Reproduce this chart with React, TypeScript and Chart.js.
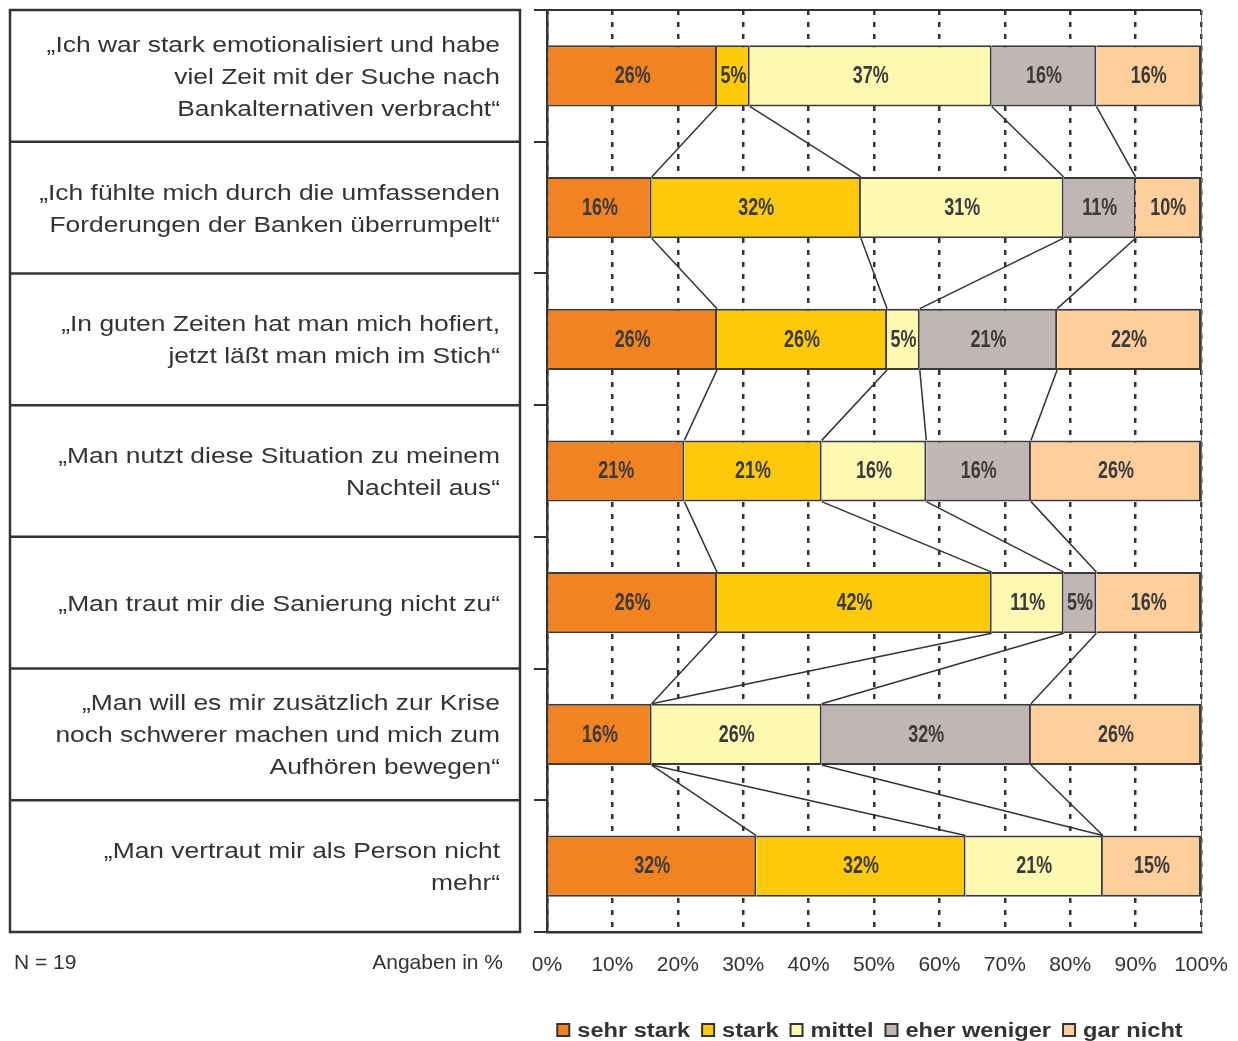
import React, { useEffect, useRef } from "react";
import { Chart, registerables } from "chart.js";

Chart.register(...registerables);

// ---------- data ----------
const statements: string[][] = [
  ["„Ich war stark emotionalisiert und habe", "viel Zeit mit der Suche nach", "Bankalternativen verbracht“"],
  ["„Ich fühlte mich durch die umfassenden", "Forderungen der Banken überrumpelt“"],
  ["„In guten Zeiten hat man mich hofiert,", "jetzt läßt man mich im Stich“"],
  ["„Man nutzt diese Situation zu meinem", "Nachteil aus“"],
  ["„Man traut mir die Sanierung nicht zu“"],
  ["„Man will es mir zusätzlich zur Krise", "noch schwerer machen und mich zum", "Aufhören bewegen“"],
  ["„Man vertraut mir als Person nicht", "mehr“"],
];
const seriesNames = ["sehr stark", "stark", "mittel", "eher weniger", "gar nicht"];
const sehrStark = [26, 16, 26, 21, 26, 16, 32];
const stark = [5, 32, 26, 21, 42, 0, 32];
const mittel = [37, 31, 5, 16, 11, 26, 21];
const eherWeniger = [16, 11, 21, 16, 5, 32, 0];
const garNicht = [16, 10, 22, 26, 16, 26, 15];
const seriesValues = [sehrStark, stark, mittel, eherWeniger, garNicht];
const xTickValues = [0, 10, 20, 30, 40, 50, 60, 70, 80, 90, 100];
const footLeft = "N = 19";
const footRight = "Angaben in %";

// ---------- styles ----------
const colors = ["#F28322", "#FDCA0B", "#FFF8B3", "#C0B6B4", "#FECF9D"];
const INK = "#333333";
const SANS = '"Liberation Sans", Arial, Helvetica, sans-serif';
const STRETCH = 1.2;

function stretchedText(ctx: CanvasRenderingContext2D, text: string, x: number, y: number, align: CanvasTextAlign, sx: number) {
  ctx.save();
  ctx.translate(x, y);
  ctx.scale(sx, 1);
  ctx.textAlign = align;
  ctx.fillText(text, 0, 0);
  ctx.restore();
}

const decorPlugin = {
  id: "decor",
  afterDatasetsDraw(chart: any) {
    const ctx: CanvasRenderingContext2D = chart.ctx;
    const xScale = chart.scales.x;
    const meta0 = chart.getDatasetMeta(0);
    const n = statements.length;

    // series lines
    ctx.save();
    ctx.strokeStyle = INK;
    ctx.lineWidth = 1.5;
    for (let i = 0; i < n - 1; i++) {
      const a = meta0.data[i].getProps(["y", "height"], true);
      const b = meta0.data[i + 1].getProps(["y", "height"], true);
      const yA = a.y + a.height / 2;
      const yB = b.y - b.height / 2;
      let cumA = 0;
      let cumB = 0;
      for (let s = 0; s < seriesValues.length - 1; s++) {
        cumA += seriesValues[s][i];
        cumB += seriesValues[s][i + 1];
        ctx.beginPath();
        ctx.moveTo(xScale.getPixelForValue(cumA), yA);
        ctx.lineTo(xScale.getPixelForValue(cumB), yB);
        ctx.stroke();
      }
    }
    ctx.restore();

    // value labels (condensed bold look)
    ctx.save();
    ctx.fillStyle = "#3a3a3a";
    ctx.font = `bold 23px ${SANS}`;
    ctx.textBaseline = "middle";
    chart.data.datasets.forEach((ds: any, di: number) => {
      const meta = chart.getDatasetMeta(di);
      ds.data.forEach((v: number, i: number) => {
        if (!v) return;
        const el = meta.data[i].getProps(["x", "y", "base"], true);
        stretchedText(ctx, `${v}%`, (el.x + el.base) / 2, el.y + 1, "center", 0.78);
      });
    });
    ctx.restore();
  },
  afterDraw(chart: any) {
    const ctx: CanvasRenderingContext2D = chart.ctx;
    const { left, right, top, bottom } = chart.chartArea;
    const yScale = chart.scales.y;
    const n = statements.length;

    // top frame and right solid edge
    ctx.save();
    ctx.strokeStyle = INK;
    ctx.lineWidth = 2;
    ctx.beginPath();
    ctx.moveTo(left, top);
    ctx.lineTo(right, top);
    ctx.stroke();
    ctx.lineWidth = 1;
    ctx.strokeStyle = "#666";
    ctx.beginPath();
    ctx.moveTo(right + 0.5, top);
    ctx.lineTo(right + 0.5, bottom);
    ctx.stroke();
    ctx.restore();

    // statement table
    const boxL = 10;
    const boxR = 520;
    const bounds: number[] = [];
    for (let i = 0; i <= n; i++) {
      bounds.push(i === 0 ? top : i === n ? bottom : (yScale.getPixelForTick(i - 1) + yScale.getPixelForTick(i)) / 2);
    }
    ctx.save();
    ctx.strokeStyle = INK;
    ctx.lineWidth = 2.5;
    ctx.strokeRect(boxL, bounds[0], boxR - boxL, bounds[n] - bounds[0]);
    for (let i = 1; i < n; i++) {
      ctx.beginPath();
      ctx.moveTo(boxL, bounds[i]);
      ctx.lineTo(boxR, bounds[i]);
      ctx.stroke();
    }
    ctx.fillStyle = INK;
    ctx.font = `22px ${SANS}`;
    ctx.textBaseline = "middle";
    const lh = 32;
    statements.forEach((lines, i) => {
      const cy = yScale.getPixelForTick(i) + 2;
      lines.forEach((line, k) => {
        const y = cy + (k - (lines.length - 1) / 2) * lh;
        stretchedText(ctx, line, 500, y, "right", STRETCH);
      });
    });

    // footers
    ctx.font = `21px ${SANS}`;
    ctx.textAlign = "left";
    ctx.fillText(footLeft, 14, 963);
    ctx.textAlign = "right";
    ctx.fillText(footRight, 503, 963);
    ctx.restore();

    // legend
    ctx.save();
    ctx.font = `bold 20px ${SANS}`;
    ctx.textBaseline = "middle";
    const sq = 12;
    const gapText = 8;
    const gapItem = 12;
    const LSX = 1.18;
    const widths = seriesNames.map((s) => ctx.measureText(s).width * LSX);
    const total = widths.reduce((a, w) => a + sq + gapText + w, 0) + gapItem * (seriesNames.length - 1);
    let x = 870 - total / 2;
    const ly = 1030;
    seriesNames.forEach((name, i) => {
      ctx.fillStyle = colors[i];
      ctx.fillRect(x, ly - sq / 2, sq, sq);
      ctx.strokeStyle = INK;
      ctx.lineWidth = 2;
      ctx.strokeRect(x, ly - sq / 2, sq, sq);
      x += sq + gapText;
      ctx.fillStyle = INK;
      stretchedText(ctx, name, x, ly + 1, "left", LSX);
      x += widths[i] + gapItem;
    });
    ctx.restore();
  },
};

export default function App() {
  const ref = useRef<HTMLCanvasElement | null>(null);
  useEffect(() => {
    if (!ref.current) return;
    const chart = new Chart(ref.current, {
      type: "bar",
      data: {
        labels: statements.map((l) => l.join(" ")),
        datasets: seriesNames.map((name, i) => ({
          label: name,
          data: seriesValues[i],
          backgroundColor: colors[i],
          borderColor: "#3a3a3a",
          borderWidth: 2,
          borderSkipped: "start",
          categoryPercentage: 1,
          barPercentage: 0.465,
        })),
      },
      options: {
        indexAxis: "y",
        responsive: false,
        animation: false,
        devicePixelRatio: 1,
        layout: { padding: { left: 534, top: 10, right: 37, bottom: 0 } },
        plugins: { legend: { display: false }, tooltip: { enabled: false } },
        scales: {
          x: {
            stacked: true,
            min: 0,
            max: 100,
            afterFit: (s: any) => {
              s.height = 109;
              s.paddingLeft = 0;
              s.paddingRight = 0;
            },
            afterBuildTicks: (s: any) => {
              s.ticks = xTickValues.map((v) => ({ value: v }));
            },
            ticks: {
              callback: (v: any) => `${v}%`,
              font: { family: SANS, size: 21 },
              color: INK,
              padding: 21,
            },
            grid: { color: INK, lineWidth: 2.5, drawTicks: false },
            border: { display: true, color: INK, width: 2.5, dash: [5, 7] },
          },
          y: {
            stacked: true,
            afterFit: (s: any) => {
              s.width = 13;
            },
            ticks: { display: false },
            grid: { drawOnChartArea: false, drawTicks: true, tickLength: 13, color: INK, lineWidth: 2, offset: true },
            border: { display: true, color: INK, width: 2.5 },
          },
        },
      },
      plugins: [decorPlugin],
    } as any);
    return () => chart.destroy();
  }, []);
  return (
    <div style={{ position: "absolute", left: 0, top: 0, width: 1238, height: 1041, background: "#fff" }}>
      <canvas ref={ref} width={1238} height={1041} style={{ display: "block" }} />
    </div>
  );
}
